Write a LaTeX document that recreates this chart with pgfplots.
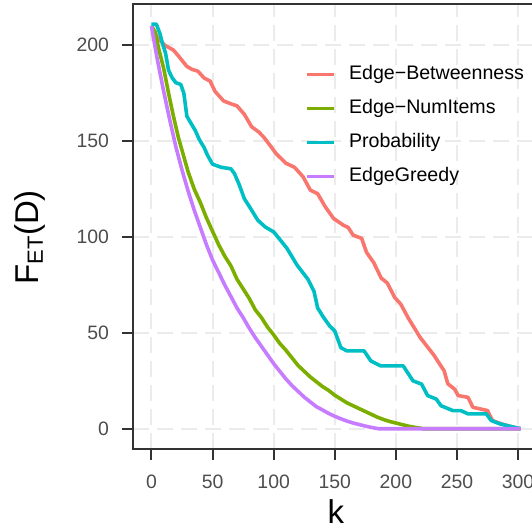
\documentclass[border=0pt]{standalone}
\usepackage{fontspec}
\setmainfont{Liberation Sans}
\usepackage{pgfplots}
\pgfplotsset{compat=1.18}
\definecolor{cRed}{HTML}{F8766D}
\definecolor{cGreen}{HTML}{7CAE00}
\definecolor{cTeal}{HTML}{00BFC4}
\definecolor{cPurple}{HTML}{C77CFF}
\definecolor{axisgray}{HTML}{333333}
\definecolor{gridgray}{HTML}{EBEBEB}
\definecolor{ticktext}{HTML}{4D4D4D}
\begin{document}
\begin{tikzpicture}
\begin{axis}[
  at={(66.5pt,41pt)}, anchor=south west,
  scale only axis, width=203pt, height=222.5pt,
  xmin=-15.1, xmax=317.1, ymin=-10.55, ymax=221.55,
  xtick={0,50,...,300}, ytick={0,50,...,200},
  axis line style={axisgray, line width=1pt},
  tick style={axisgray, line width=1pt},
  tick align=outside, major tick length=5.5pt,
  xtick pos=bottom, ytick pos=left,
  grid=major, major grid style={gridgray, line width=1pt, dash pattern=on 8pt off 4pt},
  tick label style={font=\fontsize{9.7}{11}\selectfont, text=ticktext},
  xticklabel style={yshift=-4pt},
  yticklabel style={xshift=-3pt},
  /pgf/number format/assume math mode=true,
  xlabel={k}, ylabel={F\raisebox{-0.25ex}{\fontsize{11}{12}\selectfont ET}(D)},
  label style={font=\fontsize{16.5}{18}\selectfont},
  xlabel style={at={(axis description cs:0.5,0)}, anchor=center, inner sep=0pt, yshift=-31.5pt},
  ylabel style={at={(axis description cs:0,0.476)}, anchor=center, rotate=0, yshift=51.5pt},
  legend style={at={(axis description cs:0.409,0.874)}, anchor=north west, draw=none, fill=none,
    font=\fontsize{9.8}{11}\selectfont, row sep=7pt, column sep=6.5pt,
    nodes={inner sep=0pt, text height=7.5pt, text depth=2.5pt}},
  legend cell align=left,
  legend image code/.code={\draw[#1] (0pt,0pt) -- (13.5pt,0pt);},
  every axis plot/.append style={line width=1.8pt, line join=round, no markers},
]
\addplot[cRed] coordinates {
(0,210) (5,204) (11,200) (18,197.5) (22,194.5) (29,189) (33,187.5) (38,186.5) (43,183) (48,181.3)
(52,176) (59,171) (65,169.5) (70,168.4) (76,164) (82,157.5) (88,154.7) (92,152) (98,147) (102,143.5)
(110,138.5) (117,136.4) (124,131.5) (130,124.5) (136,122.6) (142,116) (149,109.7) (157,106.2) (161,105)
(165,101) (172,99.3) (176,92) (182,86.5) (188,78.6) (193,76) (199,68.5) (204,65) (210,57.9) (220,47.5)
(231,38.5) (239.5,30.2) (242.5,23.5) (248,20.7) (251,17.3) (259,16.4) (263,11.2) (275,9.5) (279,4.3)
(286,2.6) (295,1) (302,0)
};
\addlegendentry{Edge−Betweenness}
\addplot[cGreen] coordinates {
(0,210) (3,207) (6,198) (10,188) (14,175) (18,163) (22,152) (26,143) (30,134) (35,125) (40,118)
(45,110) (50,103) (55,96) (60,90) (65,85) (70,78) (75,73) (80,68) (85,62) (90,58) (95,53) (100,49)
(105,44.5) (110,41) (115,37) (120,33) (125,30) (130,27) (135,24.5) (140,22) (145,20) (150,17.5)
(155,15.5) (160,13.5) (165,12) (170,10.5) (175,9) (180,7.5) (185,6) (190,4.8) (195,3.8) (200,3)
(205,2.2) (210,1.4) (215,0.8) (220,0.3) (223,0) (302,0)
};
\addlegendentry{Edge−NumItems}
\addplot[cTeal] coordinates {
(0,211) (4,211) (7,206) (9,201) (11.5,196) (14,187) (17,183) (20,180.5) (24,179.6) (26.5,175)
(29,163) (32,159.7) (36,155.4) (39,151) (43,146.8) (46,142.5) (50,138) (57,136.4) (65,135.6)
(68,133) (72,127) (76,120) (81,115) (87,108.8) (93,105.3) (100,102.7) (106,98) (111,94) (119,85.5)
(128,78) (133,71.7) (136,63) (141,57.9) (146,53.5) (150,51) (155,42.3) (160,40.6) (174,40.6)
(179.5,35.4) (187.5,32.8) (206,32.8) (214,25) (221,23.3) (226,17.3) (233,15.5) (237,12) (246.5,9.5)
(253,9.5) (259,7.8) (274,7.8) (278,4.3) (285,2.6) (292,1.5) (302,0)
};
\addlegendentry{Probability}
\addplot[cPurple] coordinates {
(0,210) (5,192) (10,176) (15,161) (20,147) (25,135) (30,124) (35,114) (40,105) (45,96) (50,88)
(55,81.5) (60,75) (65,69) (70,63) (75,58) (80,52.5) (85,47.5) (90,43) (95,38.5) (100,34) (105,30)
(110,26) (115,22.5) (120,19.5) (125,16.5) (130,14) (135,11.5) (140,9.8) (145,8) (150,6.5) (155,5.2)
(160,4) (165,3) (170,2.2) (175,1.4) (180,0.7) (186,0) (302,0)
};
\addlegendentry{EdgeGreedy}
\end{axis}
\pgfresetboundingbox
\path[use as bounding box] (0,0) rectangle (266pt,265.5pt);
\end{tikzpicture}
\end{document}
